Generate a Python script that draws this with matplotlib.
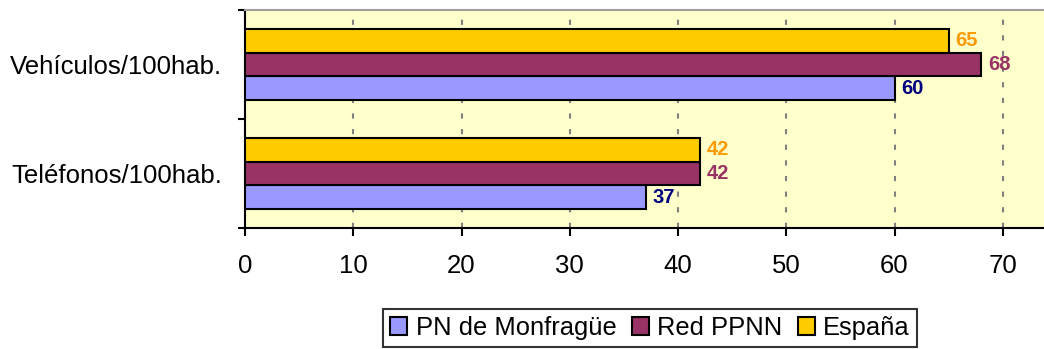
import matplotlib
matplotlib.use("Agg")
import matplotlib.pyplot as plt
import numpy as np
from matplotlib.patches import Patch

categories = ["Teléfonos/100hab.", "Vehículos/100hab."]
series_names = ["PN de Monfragüe", "Red PPNN", "España"]
pn_values = [37, 60]
red_values = [42, 68]
espana_values = [42, 65]
x_ticks = [0, 10, 20, 30, 40, 50, 60, 70]

colors = ["#9999FF", "#993366", "#FFCC00"]
label_colors = ["#000080", "#993366", "#FF9900"]

plt.rcParams['font.family'] = ['Liberation Sans', 'DejaVu Sans']

fig = plt.figure(figsize=(10.44, 3.49), dpi=100)
ax = fig.add_axes([245/1044, 1 - 228/349, 1 - 245/1044 + 0.002, (228 - 10)/349])
ax.set_facecolor("#FFFFCC")

h = 0.22
y = np.arange(len(categories))
all_vals = [pn_values, red_values, espana_values]
offsets = [-h, 0, h]
for vals, off, c, lc in zip(all_vals, offsets, colors, label_colors):
    ax.barh(y + off, vals, height=h, color=c, edgecolor="black", linewidth=1.5, zorder=3)
    for yi, v in zip(y, vals):
        ax.annotate(str(v), (v, yi + off), xytext=(5, 0), textcoords="offset points",
                    va="center", ha="left", fontsize=14.5, fontweight="bold", color=lc, zorder=4)

ax.set_xlim(0, 74)
ax.set_ylim(-0.5, 1.5)
ax.set_xticks(x_ticks)
ax.set_xticklabels([str(t) for t in x_ticks], fontsize=18.5)
ax.set_yticks([-0.5, 0.5, 1.5])
ax.set_yticklabels([])
ax.set_yticks(y, minor=True)
ax.set_yticklabels(categories, minor=True, fontsize=18.5)
ax.tick_params(axis="y", which="minor", length=0, pad=16.5)
ax.tick_params(axis="y", which="major", length=5, width=1.5, direction="out")
ax.tick_params(axis="x", length=6, width=1.5, direction="out", pad=13)

ax.grid(axis="x", color="#808080", linestyle=(0, (2.5, 5)), linewidth=1.5, zorder=1)
ax.spines["left"].set_linewidth(1.5)
ax.spines["bottom"].set_linewidth(1.5)
ax.spines["top"].set_color("#A0A0A0")
ax.spines["top"].set_linewidth(1.5)
ax.spines["right"].set_visible(False)

handles = [Patch(facecolor=c, edgecolor="black", linewidth=1.5) for c in colors]
leg = fig.legend(handles, series_names, loc="upper center", bbox_to_anchor=(650/1044, 1 - 309/349),
                 ncol=3, fontsize=18.4, frameon=True, fancybox=False, edgecolor="black",
                 handlelength=0.68, handleheight=0.68, handletextpad=0.32, columnspacing=0.6,
                 borderpad=0.28, borderaxespad=0)
leg.get_frame().set_linewidth(1.5)

fig.savefig("out.png", dpi=100)
